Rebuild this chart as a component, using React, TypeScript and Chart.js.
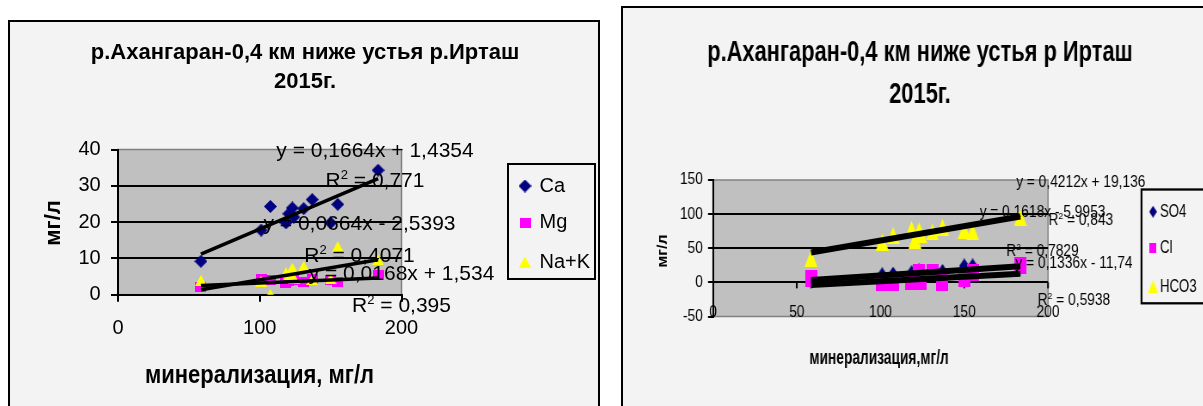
import React, { useEffect, useRef } from 'react';
import { Chart, registerables } from 'chart.js';

Chart.register(...registerables);

// ---------------- data ----------------
const mineralization = [58.5, 101, 107.5, 118.5, 120.5, 123, 124, 131, 137, 150, 155, 183.5];

const caValues = [9.2, 17.8, 24.3, 19.8, 22.3, 23.9, 21.4, 23.7, 26.2, 19.8, 24.9, 34.3];
const mgValues = [2.1, 4.3, 4.1, 3.3, 3.8, 4.0, 4.0, 3.5, 4.3, 4.0, 3.4, 5.5];
const naKValues = [3.9, 3.7, 0.1, 6.0, 5.5, 7.3, 4.5, 7.8, 4.2, 4.4, 13.2, 9.6];

const so4Values = [2, 11, 12, 14, 16, 17, 14, 13, 16, 24, 24, 22];
const clValues = [6, 0.5, 0.5, 1, 2, 14, 2, 15, 0.5, 6, 14, 24];
const hco3Values = [35, 59, 69, 78, 62, 76, 70, 74, 81, 76, 74, 95];

const leftNames = ['Ca', 'Mg', 'Na+K'];
const rightNames = ['SO4', 'Cl', 'HCO3'];

const leftSlopes = [0.1664, 0.0168, 0.0664];
const leftIntercepts = [1.4354, 1.534, -2.5393];
const leftR2 = [0.771, 0.395, 0.4071];

const rightSlopes = [0.1618, 0.1336, 0.4212];
const rightIntercepts = [-5.9953, -11.74, 19.136];
const rightR2 = [0.7829, 0.5938, 0.843];

const leftXTicks = [0, 100, 200];
const leftYTicks = [0, 10, 20, 30, 40];
const rightXTicks = [0, 50, 100, 150, 200];
const rightYTicks = [-50, 0, 50, 100, 150];

const leftTitle = ['р.Ахангаран-0,4 км ниже устья р.Ирташ', '2015г.'];
const rightTitle = ['р.Ахангаран-0,4 км ниже устья р Ирташ', '2015г.'];
const leftXTitle = 'минерализация, мг/л';
const rightXTitle = 'минерализация,мг/л';
const yTitle = 'мг/л';

// ---------------- styling / layout ----------------
const COLORS = ['#000080', '#ff00ff', '#ffff00'];
const FAMILY = '"Liberation Sans", Arial, Helvetica, sans-serif';
const FRAME_BG = '#f3f3f3';
const RIGHT_SX = 0.86;

const fontStr = (size: number, bold = false) => `${bold ? 'bold ' : ''}${size}px ${FAMILY}`;
const fmt = (v: number) => String(v).replace('.', ',');

type Seg = { t: string; sup?: boolean };

function drawSegs(ctx: CanvasRenderingContext2D, segs: Seg[], x: number, baseline: number, size: number, bold: boolean, sx: number, align: 'center' | 'left' = 'center', baselineMode: CanvasTextBaseline = 'alphabetic') {
  ctx.save();
  const widths = segs.map((s) => {
    ctx.font = fontStr(s.sup ? size * 0.62 : size, bold);
    return ctx.measureText(s.t).width;
  });
  const total = widths.reduce((a, b) => a + b, 0);
  const start = align === 'center' ? x - (total * sx) / 2 : x;
  ctx.translate(start, baseline);
  ctx.scale(sx, 1);
  ctx.fillStyle = '#000';
  ctx.textAlign = 'left';
  ctx.textBaseline = baselineMode;
  let cx = 0;
  segs.forEach((s, i) => {
    ctx.font = fontStr(s.sup ? size * 0.62 : size, bold);
    ctx.fillText(s.t, cx, s.sup ? -size * 0.36 : 0);
    cx += widths[i];
  });
  ctx.restore();
}

function drawRotated(ctx: CanvasRenderingContext2D, text: string, x: number, y: number, size: number, bold: boolean) {
  ctx.save();
  ctx.translate(x, y);
  ctx.rotate(-Math.PI / 2);
  ctx.font = fontStr(size, bold);
  ctx.textAlign = 'center';
  ctx.textBaseline = 'middle';
  ctx.fillStyle = '#000';
  ctx.fillText(text, 0, 0);
  ctx.restore();
}

function markerCanvas(shape: string, w: number, h: number, color: string) {
  const c = document.createElement('canvas');
  c.width = w;
  c.height = h;
  const g = c.getContext('2d')!;
  g.fillStyle = color;
  g.beginPath();
  if (shape === 'diamond') {
    g.moveTo(w / 2, 0);
    g.lineTo(w, h / 2);
    g.lineTo(w / 2, h);
    g.lineTo(0, h / 2);
  } else if (shape === 'square') {
    g.rect(0, 0, w, h);
  } else {
    g.moveTo(w / 2, 0);
    g.lineTo(w, h);
    g.lineTo(0, h);
  }
  g.closePath();
  g.fill();
  return c;
}

function trendPoints(slope: number, intercept: number) {
  const x0 = Math.min(...mineralization);
  const x1 = Math.max(...mineralization);
  return [
    { x: x0, y: slope * x0 + intercept },
    { x: x1, y: slope * x1 + intercept },
  ];
}

function equationText(slope: number, intercept: number) {
  return `y = ${fmt(slope)}x ${intercept < 0 ? '-' : '+'} ${fmt(Math.abs(intercept))}`;
}

const plotBg = {
  id: 'plotBg',
  beforeDraw(chart: any) {
    const { ctx, chartArea: a } = chart;
    ctx.save();
    ctx.fillStyle = '#c0c0c0';
    ctx.fillRect(a.left, a.top, a.right - a.left, a.bottom - a.top);
    ctx.strokeStyle = '#808080';
    ctx.lineWidth = 1.5;
    ctx.strokeRect(a.left, a.top, a.right - a.left, a.bottom - a.top);
    ctx.restore();
  },
};

// text / legend layout (canvas pixel coordinates)
const LEFT_LAYOUT = {
  titleX: 295,
  titleY: [36.5, 65.5],
  titleSize: 22,
  yTitle: { x: 43.5, y: 201, size: 22 },
  xTitle: { x: 249.5, y: 361, size: 25, sx: 0.88 },
  trendSize: 21,
  trendPos: [
    { x: 365, y1: 134.7, y2: 164.7 },
    { x: 391.5, y1: 258, y2: 289.7 },
    { x: 349.5, y1: 208, y2: 239.7 },
  ],
  legendBox: { x: 498, y: 142, w: 87, h: 115 },
  legendMarkerX: 515,
  legendTextX: 529.5,
  legendRows: [164, 200.5, 240],
  legendSize: 20,
};

const RIGHT_LAYOUT = {
  titleX: 345.3,
  titleY: [52.5, 95],
  titleSize: 29,
  titleSx: 0.876,
  yTitle: { x: 46.5, y: 243, size: 16 },
  xTitle: { x: 297.7, y: 355.5, size: 20, sx: 0.8 },
  xTickLabelY: 305,
  tickSize: 16,
  trendSize: 16,
  trendPos: [
    { x: 487.8, y1: 208.7, y2: 248 },
    { x: 524.4, y1: 260, y2: 297 },
    { x: 532.3, y1: 178.7, y2: 217 },
  ],
  legendBox: { x: 602.9, y: 181.5, w: 120, h: 113.8 },
  legendMarkerX: 616.3,
  legendTextX: 624.4,
  legendRows: [203.7, 240, 278.7],
  legendSize: 18,
  legendSx: 0.85,
};

export default function App() {
  const leftRef = useRef<HTMLCanvasElement>(null);
  const rightRef = useRef<HTMLCanvasElement>(null);

  useEffect(() => {
    const leftMarkers = [
      markerCanvas('diamond', 13, 13, COLORS[0]),
      markerCanvas('square', 11, 10, COLORS[1]),
      markerCanvas('triangle', 12, 11, COLORS[2]),
    ];
    const rightMarkers = [
      markerCanvas('diamond', 12, 15, COLORS[0]),
      markerCanvas('square', 14, 17, COLORS[1]),
      markerCanvas('triangle', 15, 17, COLORS[2]),
    ];
    const rightLegendMarkers = [
      markerCanvas('diamond', 9, 12, COLORS[0]),
      markerCanvas('square', 8, 10, COLORS[1]),
      markerCanvas('triangle', 12, 13, COLORS[2]),
    ];

    const leftSeries = [caValues, mgValues, naKValues];
    const rightSeries = [so4Values, clValues, hco3Values];

    const L = LEFT_LAYOUT;
    const leftText = {
      id: 'leftText',
      afterDraw(chart: any) {
        const ctx = chart.ctx as CanvasRenderingContext2D;
        leftTitle.forEach((line, i) => drawSegs(ctx, [{ t: line }], L.titleX, L.titleY[i], L.titleSize, true, 1));
        drawRotated(ctx, yTitle, L.yTitle.x, L.yTitle.y, L.yTitle.size, true);
        drawSegs(ctx, [{ t: leftXTitle }], L.xTitle.x, L.xTitle.y, L.xTitle.size, true, L.xTitle.sx);
        leftSlopes.forEach((s, i) => {
          const p = L.trendPos[i];
          drawSegs(ctx, [{ t: equationText(s, leftIntercepts[i]) }], p.x, p.y1, L.trendSize, false, 1);
          drawSegs(ctx, [{ t: 'R' }, { t: '2', sup: true }, { t: ` = ${fmt(leftR2[i])}` }], p.x, p.y2, L.trendSize, false, 1);
        });
        const b = L.legendBox;
        ctx.save();
        ctx.strokeStyle = '#000';
        ctx.lineWidth = 2;
        ctx.strokeRect(b.x, b.y, b.w, b.h);
        ctx.restore();
        leftNames.forEach((n, i) => {
          const m = leftMarkers[i];
          ctx.drawImage(m, L.legendMarkerX - m.width / 2, L.legendRows[i] - m.height / 2);
          drawSegs(ctx, [{ t: n }], L.legendTextX, L.legendRows[i], L.legendSize, false, 1, 'left', 'middle');
        });
      },
    };

    const R = RIGHT_LAYOUT;
    const rightText = {
      id: 'rightText',
      beforeDatasetsDraw(chart: any) {
        const ctx = chart.ctx as CanvasRenderingContext2D;
        const xs = chart.scales.x;
        const y0 = chart.scales.y.getPixelForValue(0);
        ctx.save();
        ctx.strokeStyle = '#000';
        ctx.lineWidth = 2;
        rightXTicks.forEach((v) => {
          if (v === 0) return;
          const px = xs.getPixelForValue(v);
          ctx.beginPath();
          ctx.moveTo(px, y0);
          ctx.lineTo(px, y0 + 6);
          ctx.stroke();
        });
        ctx.restore();
      },
      afterDraw(chart: any) {
        const ctx = chart.ctx as CanvasRenderingContext2D;
        const xs = chart.scales.x;
        // x tick labels sit on the bottom edge of the plot area
        rightXTicks.forEach((v) => {
          drawSegs(ctx, [{ t: String(v) }], xs.getPixelForValue(v), R.xTickLabelY, R.tickSize, false, 1, 'center', 'middle');
        });
        rightTitle.forEach((line, i) => drawSegs(ctx, [{ t: line }], R.titleX, R.titleY[i], R.titleSize, true, R.titleSx));
        drawRotated(ctx, yTitle, R.yTitle.x, R.yTitle.y, R.yTitle.size, true);
        drawSegs(ctx, [{ t: rightXTitle }], R.xTitle.x, R.xTitle.y, R.xTitle.size, true, R.xTitle.sx);
        rightSlopes.forEach((s, i) => {
          const p = R.trendPos[i];
          drawSegs(ctx, [{ t: equationText(s, rightIntercepts[i]) }], p.x, p.y1, R.trendSize, false, 1);
          drawSegs(ctx, [{ t: 'R' }, { t: '2', sup: true }, { t: ` = ${fmt(rightR2[i])}` }], p.x, p.y2, R.trendSize, false, 1);
        });
        const b = R.legendBox;
        ctx.save();
        ctx.strokeStyle = '#000';
        ctx.lineWidth = 2.3;
        ctx.strokeRect(b.x, b.y, b.w, b.h);
        ctx.restore();
        rightNames.forEach((n, i) => {
          const m = rightLegendMarkers[i];
          ctx.drawImage(m, R.legendMarkerX - m.width / 2, R.legendRows[i] - m.height / 2);
          drawSegs(ctx, [{ t: n }], R.legendTextX, R.legendRows[i], R.legendSize, false, R.legendSx, 'left', 'middle');
        });
      },
    };

    const transparent = 'rgba(0,0,0,0)';

    const leftChart = new Chart(leftRef.current!, {
      type: 'scatter',
      data: {
        datasets: [
          ...leftSlopes.map((s, i) => ({
            label: `trend ${leftNames[i]}`,
            data: trendPoints(s, leftIntercepts[i]),
            showLine: true,
            borderColor: '#000',
            borderWidth: 3.5,
            pointRadius: 0,
            pointHoverRadius: 0,
            order: 0,
          })),
          ...leftSeries.map((vals, i) => ({
            label: leftNames[i],
            data: mineralization.map((x, j) => ({ x, y: vals[j] })),
            pointStyle: leftMarkers[i],
            pointRadius: 6,
            backgroundColor: COLORS[i],
            borderColor: COLORS[i],
            showLine: false,
            order: 3 - i,
          })),
        ],
      } as any,
      options: {
        responsive: false,
        animation: false,
        devicePixelRatio: 1,
        events: [],
        layout: { padding: { left: 0, right: 196.5, top: 127.5, bottom: 0 } },
        plugins: { legend: { display: false }, title: { display: false }, tooltip: { enabled: false } },
        scales: {
          x: {
            type: 'linear',
            min: 0,
            max: 200,
            afterBuildTicks: (s: any) => { s.ticks = leftXTicks.map((v) => ({ value: v })); },
            afterFit: (s: any) => { s.height = 111.3; },
            grid: { display: true, drawOnChartArea: false, drawTicks: true, tickLength: 7, color: '#000', tickColor: '#000', lineWidth: 2, tickWidth: 2 },
            border: { display: true, color: '#000', width: 2 },
            ticks: { color: '#000', font: { family: FAMILY, size: 20 }, padding: 14.3, maxRotation: 0, autoSkip: false },
          },
          y: {
            type: 'linear',
            min: 0,
            max: 40,
            afterBuildTicks: (s: any) => { s.ticks = leftYTicks.map((v) => ({ value: v })); },
            afterFit: (s: any) => { s.width = 108; },
            grid: {
              color: (c: any) => (c.tick && c.tick.value === 40 ? transparent : '#000'),
              tickColor: '#000',
              lineWidth: 2,
              tickWidth: 2,
              tickLength: 7,
            },
            border: { display: true, color: '#000', width: 2 },
            ticks: { color: '#000', font: { family: FAMILY, size: 20 }, padding: 10.3, autoSkip: false },
          },
        },
      } as any,
      plugins: [plotBg, leftText],
    });

    const rightChart = new Chart(rightRef.current!, {
      type: 'scatter',
      data: {
        datasets: [
          ...rightSlopes.map((s, i) => ({
            label: `trend ${rightNames[i]}`,
            data: trendPoints(s, rightIntercepts[i]),
            showLine: true,
            borderColor: '#000',
            borderWidth: 6,
            pointRadius: 0,
            pointHoverRadius: 0,
            order: 0,
          })),
          ...rightSeries.map((vals, i) => ({
            label: rightNames[i],
            data: mineralization.map((x, j) => ({ x, y: vals[j] })),
            pointStyle: rightMarkers[i],
            pointRadius: 7,
            backgroundColor: COLORS[i],
            borderColor: COLORS[i],
            showLine: false,
            order: 3 - i,
          })),
        ],
      } as any,
      options: {
        responsive: false,
        animation: false,
        devicePixelRatio: 1,
        events: [],
        layout: { padding: { left: 0, right: 205.8, top: 172, bottom: 0 } },
        plugins: { legend: { display: false }, title: { display: false }, tooltip: { enabled: false } },
        scales: {
          x: {
            type: 'linear',
            min: 0,
            max: 200,
            afterBuildTicks: (s: any) => { s.ticks = rightXTicks.map((v) => ({ value: v })); },
            afterFit: (s: any) => { s.height = 89.5; },
            grid: { display: false, drawTicks: false },
            border: { display: false },
            ticks: { display: false },
          },
          y: {
            type: 'linear',
            min: -50,
            max: 150,
            afterBuildTicks: (s: any) => { s.ticks = rightYTicks.map((v) => ({ value: v })); },
            afterFit: (s: any) => { s.width = 104.65; },
            grid: {
              color: (c: any) => (c.tick && (c.tick.value === 150 || c.tick.value === -50) ? transparent : '#000'),
              tickColor: '#000',
              lineWidth: 2,
              tickWidth: 2,
              tickLength: 5.8,
            },
            border: { display: true, color: '#000', width: 2 },
            ticks: { color: '#000', font: { family: FAMILY, size: 16 }, padding: 6, autoSkip: false },
          },
        },
      } as any,
      plugins: [plotBg, rightText],
    });

    return () => {
      leftChart.destroy();
      rightChart.destroy();
    };
  }, []);

  return (
    <div style={{ position: 'fixed', left: 0, top: 0, width: 1203, height: 406, background: '#fff', overflow: 'hidden' }}>
      <div style={{ position: 'absolute', left: 8, top: 20, width: 588, height: 400, border: '2px solid #000', background: FRAME_BG }}>
        <canvas ref={leftRef} width={588} height={384} style={{ display: 'block', width: 588, height: 384 }} />
      </div>
      <div style={{ position: 'absolute', left: 621, top: 6, width: Math.round(700 * RIGHT_SX), height: 420, border: '2px solid #000', background: FRAME_BG, overflow: 'hidden' }}>
        <div style={{ width: 700, height: 398, transform: `scaleX(${RIGHT_SX})`, transformOrigin: '0 0' }}>
          <canvas ref={rightRef} width={700} height={398} style={{ display: 'block', width: 700, height: 398 }} />
        </div>
      </div>
    </div>
  );
}
